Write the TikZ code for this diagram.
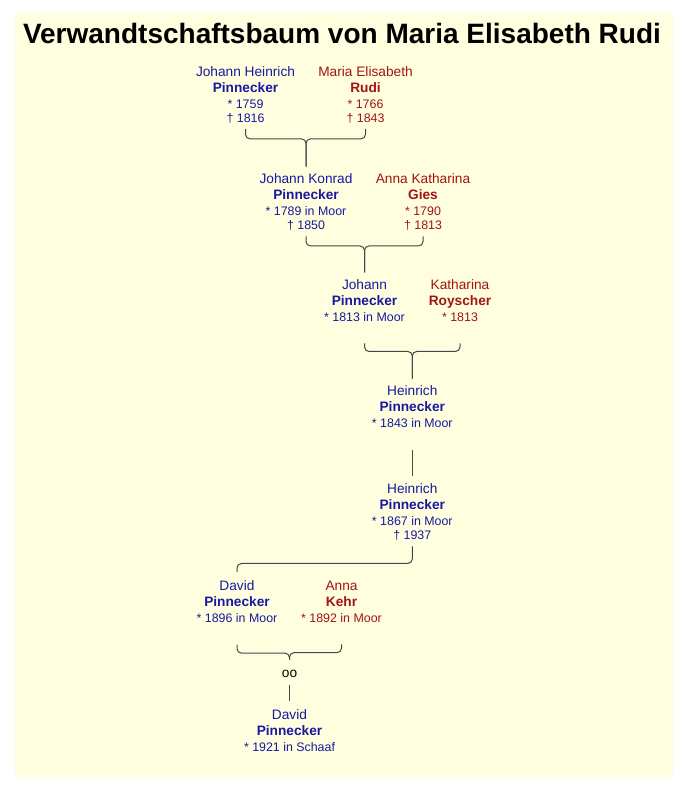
\documentclass[tikz,border=0pt]{standalone}
\usepackage{fontspec}
\setmainfont{Liberation Sans}
\definecolor{manblue}{RGB}{24,24,160}
\definecolor{womanred}{RGB}{160,20,20}
\definecolor{paper}{RGB}{255,255,224}
\definecolor{bondgray}{RGB}{70,70,70}
\tikzset{
  man/.style={anchor=north,align=center,inner sep=0pt,text=manblue,
    font=\fontsize{13.7}{16}\selectfont},
  woman/.style={man,text=womanred},
  bond/.style={draw=bondgray,line width=1pt,rounded corners=4.5pt},
}
\newcommand{\lifedata}[1]{{\fontsize{12.4}{15}\selectfont #1}}

\begin{document}
\begin{tikzpicture}[x=1pt,y=-1pt]
\useasboundingbox[fill=white] (0,0) rectangle (688,800);
\fill[paper] (15,13) rectangle (673,777);
\node[anchor=base,font=\bfseries\fontsize{28}{32}\selectfont] (title)
  at (342,43.3) {Verwandtschaftsbaum von Maria Elisabeth Rudi};

% generation 1
\node[man] (jh) at (245.5,66.7)
  {Johann Heinrich\\\textbf{Pinnecker}\\\lifedata{* 1759}\\[-2pt]\lifedata{† 1816}};
\node[woman] (me) at (365.5,66.7)
  {Maria Elisabeth\\\textbf{Rudi}\\\lifedata{* 1766}\\[-2pt]\lifedata{† 1843}};
% generation 2
\node[man] (jk) at (306,173.3)
  {Johann Konrad\\\textbf{Pinnecker}\\\lifedata{* 1789 in Moor}\\[-2pt]\lifedata{† 1850}};
\node[woman] (ak) at (423,173.3)
  {Anna Katharina\\\textbf{Gies}\\\lifedata{* 1790}\\[-2pt]\lifedata{† 1813}};
% generation 3
\node[man] (jp) at (364.5,279.3)
  {Johann\\\textbf{Pinnecker}\\\lifedata{* 1813 in Moor}};
\node[woman] (kr) at (460,279.3)
  {Katharina\\\textbf{Royscher}\\\lifedata{* 1813}};
% generation 4 and 5
\node[man] (hp) at (412.3,385.7)
  {Heinrich\\\textbf{Pinnecker}\\\lifedata{* 1843 in Moor}};
\node[man] (hs) at (412.3,483.3)
  {Heinrich\\\textbf{Pinnecker}\\\lifedata{* 1867 in Moor}\\[-2pt]\lifedata{† 1937}};
% generation 6
\node[man] (dp) at (237,580.7)
  {David\\\textbf{Pinnecker}\\\lifedata{* 1896 in Moor}};
\node[woman] (ak2) at (341.5,580.7)
  {Anna\\\textbf{Kehr}\\\lifedata{* 1892 in Moor}};
\node[anchor=center,inner sep=0pt,font=\fontsize{13.7}{16}\selectfont] (oo)
  at (289.5,673.5) {oo};
% generation 7
\node[man] (dj) at (289.5,709.3)
  {David\\\textbf{Pinnecker}\\\lifedata{* 1921 in Schaaf}};

% bonds
\draw[bond] ([yshift=-5pt]jh.south) -- ++(0,10) -| ([yshift=6.6pt]jk.north);
\draw[bond] ([yshift=-5pt]me.south) -- ++(0,10) -| ([yshift=6.6pt]jk.north);
\draw[bond] ([yshift=-6pt]jk.south) -- ++(0,9.5) -| ([yshift=7pt]jp.north);
\draw[bond] ([yshift=-6pt]ak.south) -- ++(0,9.5) -| ([yshift=7pt]jp.north);
\draw[bond] ([yshift=-21.7pt]jp.south) -- ++(0,8) -| ([yshift=7pt]hp.north);
\draw[bond] ([yshift=-21.7pt]kr.south) -- ++(0,8) -| ([yshift=7pt]hp.north);
\draw[bond] ([yshift=-21.7pt]hp.south) -- ([yshift=7.6pt]hs.north);
\draw[bond] ([yshift=-6pt]hs.south) -- ++(0,17) -| ([yshift=8.7pt]dp.north);
\draw[bond] ([yshift=-21.6pt]dp.south) -- ++(0,8.4) -| ([yshift=10pt]oo.north);
\draw[bond] ([yshift=-21.6pt]ak2.south) -- ++(0,8.4) -| ([yshift=10pt]oo.north);
\draw[bond] ([yshift=-7.5pt]oo.south) -- ([yshift=8pt]dj.north);
\end{tikzpicture}
\end{document}
